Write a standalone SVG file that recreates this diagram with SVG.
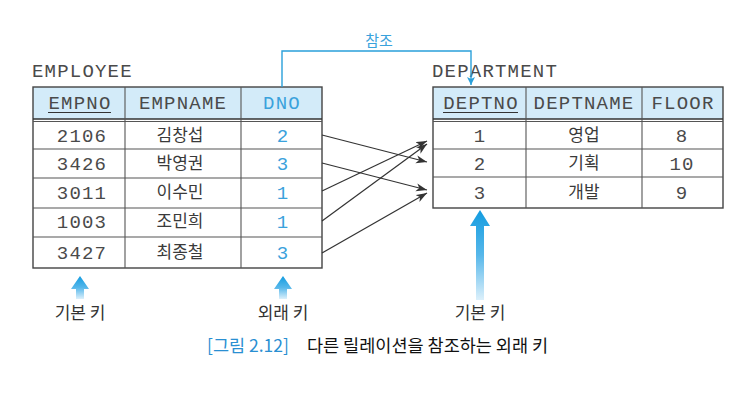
<svg xmlns="http://www.w3.org/2000/svg" width="743" height="407" viewBox="0 0 743 407">
<style>
.mono{font-family:"Liberation Mono","DejaVu Sans Mono",monospace;font-size:19px;letter-spacing:1.2px;fill:#4a4a4a;text-anchor:middle}
.ttl{text-anchor:start}
.kr{font-family:"Noto Sans CJK KR","Noto Sans",sans-serif;font-size:17px;fill:#3a3a3a;text-anchor:middle}
.blue{fill:#3aa2dc}
.hdr{fill:#d3ebf9;stroke:none}
.frame{fill:none;stroke:#444;stroke-width:1.4}
.grid{stroke:#555;stroke-width:1.1}
.conn{stroke:#333;stroke-width:1.2;fill:none}
.ref{stroke:#2aa0da;stroke-width:1.4;fill:none}
.bigarrow{fill:url(#g)}
.lbl{font-family:"Noto Sans CJK KR","Noto Sans",sans-serif;font-size:17px;fill:#333;text-anchor:middle}
.cap{font-family:"Noto Sans CJK KR","Noto Sans",sans-serif;font-size:17.5px;font-weight:400;fill:#111}
</style>
<defs>
<linearGradient id="g" x1="0" y1="0" x2="0" y2="1">
<stop offset="0" stop-color="#139ce0"/>
<stop offset="0.5" stop-color="#56b7ea"/>
<stop offset="1" stop-color="#dcf0fb"/>
</linearGradient>
<marker id="ah" markerWidth="12" markerHeight="10" refX="11" refY="4" orient="auto" markerUnits="userSpaceOnUse">
<path d="M0,0 L11,4 L0,8 L3,4 z" fill="#333"/>
</marker>
<marker id="bh" markerWidth="10" markerHeight="10" refX="8" refY="4" orient="auto" markerUnits="userSpaceOnUse">
<path d="M0,0 L8,4 L0,8 L2,4 z" fill="#2aa0da"/>
</marker>
</defs>
<rect width="743" height="407" fill="#fff"/>

<g id="employee">
<text class="mono ttl" x="32" y="77">EMPLOYEE</text>
<rect class="hdr" x="33" y="87" width="289" height="32"/>
<rect class="frame" x="33" y="87" width="289" height="181"/>
<line class="grid" x1="33" y1="121.5" x2="322" y2="121.5"/>
<line class="grid" x1="33" y1="119" x2="322" y2="119" style="stroke:#333;stroke-width:1.4"/>
<line class="grid" x1="33" y1="149" x2="322" y2="149"/>
<line class="grid" x1="33" y1="178" x2="322" y2="178"/>
<line class="grid" x1="33" y1="208" x2="322" y2="208"/>
<line class="grid" x1="33" y1="237" x2="322" y2="237"/>
<line class="grid" x1="125" y1="87" x2="125" y2="268"/>
<line class="grid" x1="241" y1="87" x2="241" y2="268"/>
<text class="mono" x="80" y="109">EMPNO</text>
<line x1="48" y1="112.5" x2="111" y2="112.5" stroke="#333" stroke-width="1.2"/>
<text class="mono" x="183" y="109">EMPNAME</text>
<text class="mono blue" x="282" y="109">DNO</text>
<text class="mono" x="82" y="142">2106</text>
<text class="kr" x="180" y="141">김창섭</text>
<text class="mono blue" x="283" y="142">2</text>
<text class="mono" x="82" y="170">3426</text>
<text class="kr" x="180" y="169">박영권</text>
<text class="mono blue" x="283" y="170">3</text>
<text class="mono" x="82" y="199">3011</text>
<text class="kr" x="180" y="198">이수민</text>
<text class="mono blue" x="283" y="199">1</text>
<text class="mono" x="82" y="228">1003</text>
<text class="kr" x="180" y="227">조민희</text>
<text class="mono blue" x="283" y="228">1</text>
<text class="mono" x="82" y="259">3427</text>
<text class="kr" x="180" y="258">최종철</text>
<text class="mono blue" x="283" y="259">3</text>
</g>

<g id="department">
<text class="mono ttl" x="432" y="77">DEPARTMENT</text>
<rect class="hdr" x="433" y="87" width="290" height="32"/>
<rect class="frame" x="433" y="87" width="290" height="121"/>
<line class="grid" x1="433" y1="121.5" x2="723" y2="121.5"/>
<line class="grid" x1="433" y1="119" x2="723" y2="119" style="stroke:#333;stroke-width:1.4"/>
<line class="grid" x1="433" y1="149" x2="723" y2="149"/>
<line class="grid" x1="433" y1="177" x2="723" y2="177"/>
<line class="grid" x1="526" y1="87" x2="526" y2="208"/>
<line class="grid" x1="642" y1="87" x2="642" y2="208"/>
<text class="mono" x="481" y="109">DEPTNO</text>
<line x1="443" y1="112.5" x2="518" y2="112.5" stroke="#333" stroke-width="1.2"/>
<text class="mono" x="584" y="109">DEPTNAME</text>
<text class="mono" x="683" y="109">FLOOR</text>
<text class="mono" x="480" y="142">1</text>
<text class="kr" x="584" y="141">영업</text>
<text class="mono" x="682" y="142">8</text>
<text class="mono" x="480" y="170">2</text>
<text class="kr" x="584" y="169">기획</text>
<text class="mono" x="682" y="170">10</text>
<text class="mono" x="480" y="199">3</text>
<text class="kr" x="584" y="198">개발</text>
<text class="mono" x="682" y="199">9</text>
</g>

<g id="connectors">
<polyline class="ref" points="282,87 282,51 471,51 471,85" marker-end="url(#bh)"/>
<line class="conn" x1="322" y1="135" x2="427" y2="162" marker-end="url(#ah)"/>
<line class="conn" x1="322" y1="163" x2="427" y2="190" marker-end="url(#ah)"/>
<line class="conn" x1="322" y1="191" x2="427" y2="141" marker-end="url(#ah)"/>
<line class="conn" x1="322" y1="221" x2="427" y2="144" marker-end="url(#ah)"/>
<line class="conn" x1="322" y1="253" x2="427" y2="193" marker-end="url(#ah)"/>
</g>

<g id="labels">
<text class="kr blue" x="379" y="46" style="font-size:15px">참조</text>
<path class="bigarrow" d="M80,276 L89,289 L84,289 L84,299 L76,299 L76,289 L71,289 Z"/>
<path class="bigarrow" d="M283,276 L292,289 L287,289 L287,299 L279,299 L279,289 L274,289 Z"/>
<path class="bigarrow" d="M480,210 L490,226 L484,226 L484,300 L476,300 L476,226 L470,226 Z"/>
<text class="lbl" x="80" y="319">기본 키</text>
<text class="lbl" x="283" y="319">외래 키</text>
<text class="lbl" x="480" y="319">기본 키</text>
</g>

<g id="caption">
<text class="cap" x="207" y="352" style="fill:#2a8fd2">[그림 2.12]</text>
<text class="cap" x="307" y="352">다른 릴레이션을 참조하는 외래 키</text>
</g>
</svg>
